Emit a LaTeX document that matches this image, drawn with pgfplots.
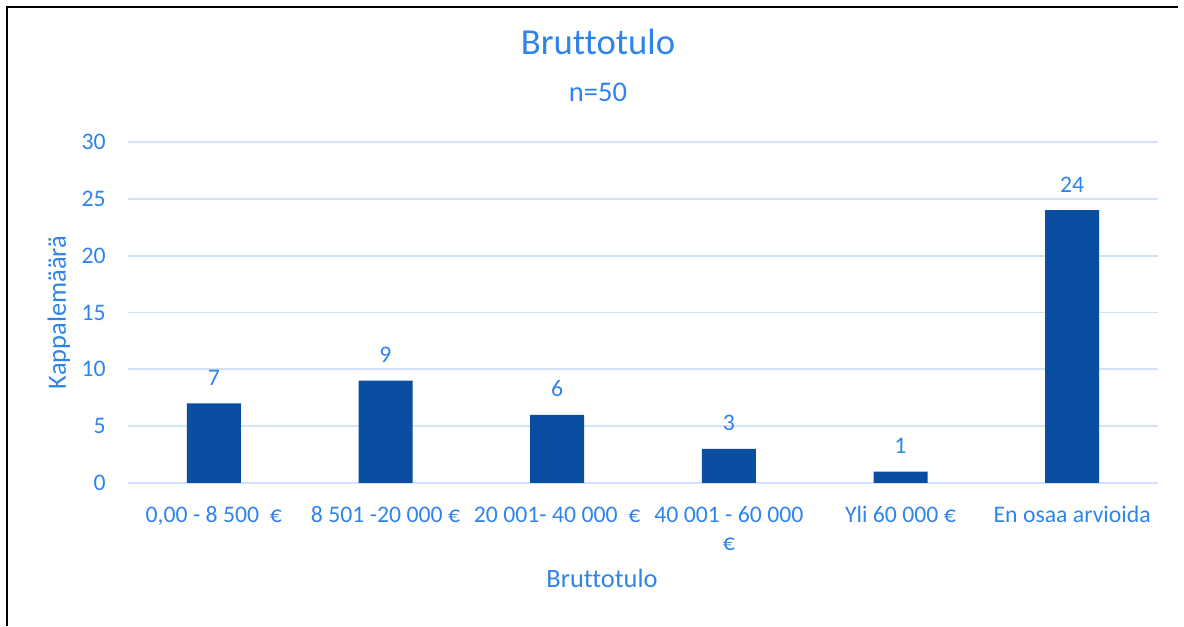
\documentclass[border=0pt]{standalone}
\usepackage{fontspec}
\setmainfont{Carlito}[Ligatures=NoCommon]
\usepackage{pgfplots}
\pgfplotsset{compat=1.18}
\definecolor{txtblue}{HTML}{2F84EC}
\definecolor{barblue}{HTML}{0A4EA2}
\definecolor{gridblue}{HTML}{D2E2F8}
\begin{document}
\begin{tikzpicture}
  % page frame (image is 1184x626 px, 1px = 0.75pt)
  \path (0pt,0pt) rectangle (888pt,469.5pt);
  \draw[line width=1.5pt] (5.25pt,0pt) -- (5.25pt,464.25pt) -- (883.5pt,464.25pt);
  \begin{axis}[
    at={(96pt,107.25pt)}, anchor=south west,
    scale only axis, width=772.5pt, height=255.75pt,
    xmin=-0.5, xmax=5.5, ymin=0, ymax=30,
    ytick={0,5,...,30},
    xtick={0,...,5},
    xticklabels={
      {\strut 0,00 - 8 500\ \ €},
      {\strut 8 501 -20 000 €},
      {\strut 20 001- 40 000\ \ €},
      {\strut 40 001 - 60 000\\\strut €},
      {\strut Yli 60 000 €},
      {\strut En osaa arvioida}
    },
    axis line style={draw=none},
    major tick length=0pt,
    ymajorgrids,
    grid style={gridblue, line width=1.3pt},
    ybar, bar width=40.5pt,
    /pgf/number format/assume math mode=true,
    tick label style={font=\fontsize{17.8}{21.4}\selectfont, text=txtblue},
    yticklabel style={anchor=east, inner sep=0pt, xshift=-16.5pt},
    xticklabel style={anchor=north, inner sep=0pt, yshift=-14.25pt, align=center},
    nodes near coords,
    every node near coord/.append style={anchor=base, inner sep=0pt, yshift=13.5pt,
      font=\fontsize{17.8}{21.4}\selectfont, text=txtblue},
    xlabel={Bruttotulo},
    ylabel={Kappalemäärä},
    xlabel style={at={(axis description cs:0.4602,-0.3079)}, anchor=base, inner sep=0pt,
      font=\fontsize{19.8}{23.8}\selectfont, text=txtblue},
    ylabel style={at={(axis description cs:-0.0602,0.5)}, anchor=base, inner sep=0pt,
      font=\fontsize{19.8}{23.8}\selectfont, text=txtblue},
    title={Bruttotulo},
    title style={at={(axis description cs:0.4563,1.2317)}, anchor=base, inner sep=0pt,
      font=\fontsize{27.5}{33}\selectfont, text=txtblue},
    clip=false,
  ]
    \addplot[fill=barblue, draw=none]
      coordinates {(0,7) (1,9) (2,6) (3,3) (4,1) (5,24)};
    \node[anchor=base, inner sep=0pt, text=txtblue, font=\fontsize{21.4}{25.7}\selectfont]
      at (axis description cs:0.4563,1.1202) {n=50};
  \end{axis}
\end{tikzpicture}
\end{document}
